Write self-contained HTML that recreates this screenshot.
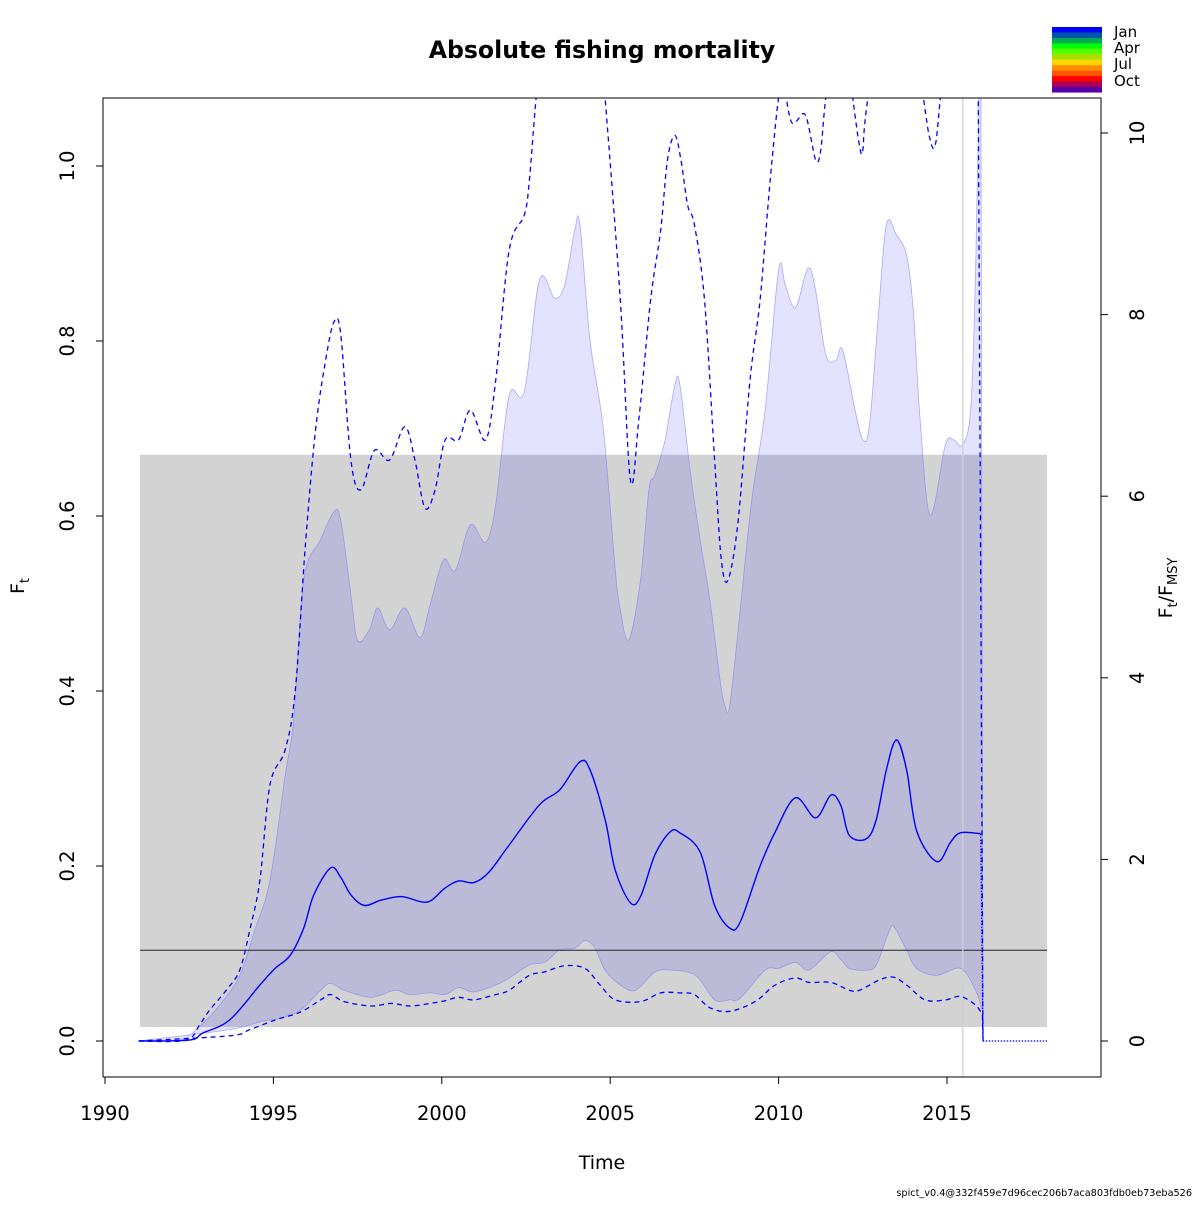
<!DOCTYPE html>
<html><head><meta charset="utf-8"><style>
body{margin:0;background:#fff;}
svg{font-family:"DejaVu Sans","Liberation Sans",sans-serif;}
</style></head><body>
<svg id="chart" width="1200" height="1200" viewBox="0 0 1200 1200">
<defs><clipPath id="pc"><rect x="103" y="98" width="998" height="979"/></clipPath></defs>
<text x="602" y="58" text-anchor="middle" font-size="23.6" font-weight="bold">Absolute fishing mortality</text>
<g id="plot" clip-path="url(#pc)"></g>
<g id="axes"></g>
</svg>
<script>
const estT=[1991.0,1992.5,1992.9,1993.7,1994.6,1995.05,1995.5,1995.9,1996.2,1996.7,1997.0,1997.3,1997.7,1998.2,1998.8,1999.4,1999.7,2000.1,2000.5,2000.95,2001.4,2002.0,2002.9,2003.5,2004.1,2004.4,2004.85,2005.15,2005.6,2005.9,2006.33,2006.78,2007.07,2007.67,2008.1,2008.55,2008.86,2009.45,2009.9,2010.5,2011.1,2011.55,2011.85,2012.1,2012.6,2012.9,2013.2,2013.5,2013.8,2014.1,2014.7,2015.1,2015.4,2016.0];
const estF=[0,0.001,0.009,0.024,0.064,0.083,0.098,0.129,0.167,0.198,0.187,0.167,0.155,0.161,0.165,0.159,0.161,0.175,0.183,0.181,0.193,0.224,0.270,0.287,0.319,0.310,0.253,0.195,0.158,0.165,0.213,0.239,0.238,0.216,0.155,0.129,0.136,0.200,0.239,0.278,0.255,0.281,0.269,0.235,0.231,0.253,0.310,0.344,0.310,0.240,0.205,0.227,0.238,0.237];
const upT=[1991.0,1992.2,1992.7,1993.4,1994.0,1994.45,1994.9,1995.35,1995.6,1995.9,1996.4,1996.8,1997.0,1997.3,1997.5,1997.85,1998.1,1998.45,1998.9,1999.35,1999.65,2000.05,2000.4,2000.85,2001.3,2001.6,2002.0,2002.45,2002.9,2003.35,2003.65,2003.95,2004.1,2004.4,2004.8,2005.15,2005.3,2005.55,2005.9,2006.15,2006.33,2006.63,2006.92,2007.07,2007.37,2007.67,2007.96,2008.26,2008.4,2008.55,2008.86,2009.2,2009.6,2010.0,2010.2,2010.5,2010.87,2011.1,2011.4,2011.7,2011.9,2012.27,2012.5,2012.7,2012.95,2013.2,2013.5,2013.8,2014.0,2014.2,2014.5,2014.95,2015.2,2015.45,2015.7,2015.85,2016.0];
const upF=[0,0.001,0.0126,0.041,0.075,0.127,0.184,0.304,0.367,0.527,0.573,0.605,0.595,0.510,0.458,0.470,0.495,0.470,0.495,0.461,0.498,0.550,0.538,0.590,0.570,0.613,0.738,0.742,0.870,0.849,0.864,0.927,0.933,0.801,0.698,0.538,0.493,0.458,0.527,0.630,0.647,0.687,0.750,0.750,0.653,0.573,0.504,0.413,0.384,0.384,0.493,0.618,0.721,0.881,0.864,0.838,0.883,0.858,0.784,0.778,0.790,0.721,0.687,0.704,0.824,0.933,0.921,0.898,0.835,0.710,0.601,0.681,0.687,0.681,0.721,0.881,1.2];
const loT=[1991.0,1993.7,1994.6,1995.2,1995.8,1996.4,1996.7,1997.1,1997.9,1998.6,1999.05,1999.65,2000.1,2000.5,2000.95,2001.6,2002.0,2002.6,2003.05,2003.5,2003.95,2004.25,2004.55,2004.85,2005.3,2005.75,2006.33,2006.8,2007.37,2007.67,2008.1,2008.55,2008.86,2009.6,2010.0,2010.5,2010.9,2011.55,2011.85,2012.1,2012.6,2012.9,2013.3,2013.45,2013.8,2014.1,2014.7,2015.4,2015.85,2016.05];
const loF=[0,0.013,0.022,0.026,0.035,0.058,0.066,0.058,0.050,0.058,0.053,0.055,0.053,0.061,0.056,0.064,0.072,0.087,0.090,0.104,0.106,0.115,0.106,0.081,0.064,0.058,0.079,0.081,0.078,0.070,0.047,0.047,0.049,0.081,0.083,0.090,0.081,0.102,0.093,0.083,0.081,0.087,0.127,0.129,0.104,0.083,0.075,0.083,0.058,0.035];
const dUpT=[1991.0,1992.4,1992.8,1993.1,1993.6,1994.0,1994.3,1994.6,1994.9,1995.35,1995.65,1995.95,1996.25,1996.55,1996.8,1997.0,1997.3,1997.6,1998.0,1998.45,1998.9,1999.2,1999.5,1999.8,2000.1,2000.5,2000.85,2001.3,2001.6,2002.0,2002.45,2002.6,2002.8,2003.2,2004.0,2004.6,2004.85,2005.3,2005.6,2005.85,2006.2,2006.5,2006.7,2006.92,2007.1,2007.3,2007.5,2007.8,2008.1,2008.3,2008.5,2008.8,2009.15,2009.45,2009.75,2010.0,2010.15,2010.35,2010.5,2010.8,2011.1,2011.25,2011.4,2011.8,2012.2,2012.4,2012.5,2012.65,2013.5,2014.3,2014.5,2014.65,2014.8,2015.3,2015.9];
const dUpF=[0,0.001,0.018,0.035,0.058,0.081,0.127,0.184,0.293,0.333,0.401,0.567,0.698,0.778,0.822,0.807,0.664,0.630,0.675,0.664,0.702,0.664,0.609,0.630,0.687,0.687,0.721,0.687,0.755,0.904,0.944,0.984,1.078,1.25,1.4,1.2,1.078,0.847,0.641,0.710,0.847,0.927,1.007,1.035,1.007,0.955,0.933,0.847,0.664,0.550,0.527,0.595,0.755,0.847,0.984,1.078,1.09,1.053,1.050,1.058,1.007,1.018,1.078,1.2,1.078,1.024,1.018,1.078,1.3,1.078,1.030,1.024,1.078,1.3,1.3];
const dLoT=[1991.0,1993.7,1994.3,1995.05,1995.8,1996.4,1996.7,1997.1,1997.9,1998.5,1999.05,1999.65,2000.1,2000.5,2000.95,2001.6,2002.0,2002.6,2003.05,2003.65,2004.25,2004.7,2005.15,2005.9,2006.5,2007.07,2007.5,2007.96,2008.55,2009.3,2009.9,2010.5,2010.9,2011.55,2012.1,2012.4,2013.0,2013.4,2013.8,2014.35,2014.95,2015.4,2015.85,2016.05];
const dLoF=[0,0.006,0.013,0.024,0.033,0.047,0.053,0.045,0.040,0.043,0.040,0.043,0.046,0.050,0.047,0.053,0.058,0.075,0.079,0.086,0.083,0.064,0.047,0.045,0.055,0.055,0.053,0.038,0.034,0.045,0.064,0.072,0.067,0.067,0.058,0.058,0.070,0.073,0.064,0.047,0.047,0.051,0.041,0.030];
const xTicks=[1990,1995,2000,2005,2010,2015];
const yTicks=[0.0,0.2,0.4,0.6,0.8,1.0];
const rTicks=[0,2,4,6,8,10];
const Fmsy=0.1037;
const tEnd=2016.07, tLast=2017.97, tNow=2015.47;
const boxT=[1991.04,2017.97], boxF=[0.016,0.67];

const X=t=>105+33.68*(t-1990);
const Y=v=>1041-875*v;
const YR=r=>1041-90.8*r;
const NS='http://www.w3.org/2000/svg';
const plot=document.getElementById('plot'), axes=document.getElementById('axes');
function mk(tag,attrs,parent){const e=document.createElementNS(NS,tag);for(const k in attrs)e.setAttribute(k,attrs[k]);(parent||plot).appendChild(e);return e;}
function smooth(pts){let d='M'+pts[0][0].toFixed(1)+','+pts[0][1].toFixed(1);
 for(let i=0;i<pts.length-1;i++){const p0=pts[i-1]||pts[i],p1=pts[i],p2=pts[i+1],p3=pts[i+2]||p2;
  const c1=[p1[0]+(p2[0]-p0[0])/6,p1[1]+(p2[1]-p0[1])/6],c2=[p2[0]-(p3[0]-p1[0])/6,p2[1]-(p3[1]-p1[1])/6];
  d+=`C${c1[0].toFixed(1)},${c1[1].toFixed(1)} ${c2[0].toFixed(1)},${c2[1].toFixed(1)} ${p2[0].toFixed(1)},${p2[1].toFixed(1)}`;}
 return d;}
const pts=(T,V)=>T.map((t,i)=>[X(t),Y(V[i])]);

let e;
e=mk('rect',{x:X(boxT[0]),y:Y(boxF[1]),width:X(boxT[1])-X(boxT[0]),height:Y(boxF[0])-Y(boxF[1]),fill:'#d3d3d3'});


const up=pts(upT,upF), lo=pts(loT,loF).reverse();
e=mk('path',{d:smooth(up)+' L'+X(tEnd)+','+Y(0)+' L'+lo[0][0]+','+lo[0][1]+smooth(lo).replace(/^M[^C]*/,'')+'Z',fill:'rgba(0,0,255,0.11)',stroke:'rgba(120,120,255,0.6)','stroke-width':0.8});


e=mk('line',{x1:X(1991.04),x2:X(2017.97),y1:Y(Fmsy),y2:Y(Fmsy),stroke:'#222','stroke-width':1});


e=mk('line',{x1:X(tNow),x2:X(tNow),y1:98,y2:1077,stroke:'#d0d0d0','stroke-width':1.2});


e=mk('path',{d:smooth(pts(dUpT,dUpF))+' L'+X(tEnd)+','+Y(0),fill:'none',stroke:'#0000ff','stroke-width':1.3,'stroke-dasharray':'5,4'});


e=mk('path',{d:smooth(pts(dLoT,dLoF))+' L'+X(tEnd)+','+Y(0),fill:'none',stroke:'#0000ff','stroke-width':1.3,'stroke-dasharray':'5,4'});


e=mk('path',{d:smooth(pts(estT,estF)),fill:'none',stroke:'#0000ff','stroke-width':1.4});


e=mk('path',{d:'M'+X(2016.0)+','+Y(estF[estF.length-1])+' L'+X(tEnd)+','+Y(0)+' L'+X(tLast)+','+Y(0),fill:'none',stroke:'#0000ff','stroke-width':1.2,'stroke-dasharray':'1.5,1.5'});



e=mk('rect',{x:103,y:98,width:998,height:979,fill:'none',stroke:'#000','stroke-width':1},axes);


mk('line',{x1:X(xTicks[0]),x2:X(xTicks[xTicks.length-1]),y1:1077,y2:1077,stroke:'#000'},axes);
xTicks.forEach(t=>{mk('line',{x1:X(t),x2:X(t),y1:1077,y2:1084,stroke:'#000'},axes);
 const l=mk('text',{x:X(t),y:1120,'text-anchor':'middle','font-size':19.5},axes);l.textContent=t;
 
 });
yTicks.forEach(v=>{mk('line',{x1:96,x2:103,y1:Y(v),y2:Y(v),stroke:'#000'},axes);
 const l=mk('text',{x:74,y:Y(v),'text-anchor':'middle','font-size':19.5,transform:`rotate(-90 74 ${Y(v)})`},axes);l.textContent=v.toFixed(1);
 
 });
rTicks.forEach(v=>{mk('line',{x1:1101,x2:1108,y1:YR(v),y2:YR(v),stroke:'#000'},axes);
 const l=mk('text',{x:1144,y:YR(v),'text-anchor':'middle','font-size':19.5,transform:`rotate(-90 1144 ${YR(v)})`},axes);l.textContent=v;
 
 });
const legCols=['#0000ff','#0055aa','#00aa55','#00ff00','#55ff00','#aadd00','#ffd700','#ff8c00','#ff5500','#ff0000','#aa0055','#5500aa'];
legCols.forEach((c,i)=>{const r=mk('rect',{x:1052,y:27+i*5.45,width:50,height:5.6,fill:c},axes);
 
 });
[['Jan',37],['Apr',53],['Jul',69],['Oct',86]].forEach(([s,y])=>{const l=mk('text',{x:1114,y:y,'font-size':15},axes);l.textContent=s;
 
 });
</script>
<svg style="position:absolute;left:0;top:0" width="1200" height="1200">
<text x="602" y="1169" text-anchor="middle" font-size="19" font-family="DejaVu Sans, Liberation Sans, sans-serif">Time</text>
<text x="24" y="586" text-anchor="middle" font-size="19" font-family="DejaVu Sans, Liberation Sans, sans-serif" transform="rotate(-90 24 586)">F<tspan font-size="13" dy="5">t</tspan></text>
<text x="1172" y="588" text-anchor="middle" font-size="19" font-family="DejaVu Sans, Liberation Sans, sans-serif" transform="rotate(-90 1172 588)">F<tspan font-size="13" dy="5">t</tspan><tspan dy="-5">/F</tspan><tspan font-size="13" dy="5">MSY</tspan></text>
<text x="1192" y="1196" text-anchor="end" font-size="9.7" font-family="DejaVu Sans, Liberation Sans, sans-serif">spict_v0.4@332f459e7d96cec206b7aca803fdb0eb73eba526</text>
</svg>
</body></html>
